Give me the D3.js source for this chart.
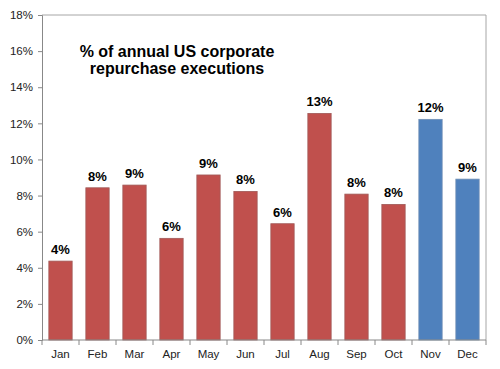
<!DOCTYPE html>
<html><head><meta charset="utf-8">
<script src="https://cdn.jsdelivr.net/npm/d3@7"></script>
<style>body{margin:0;background:#fff}svg{display:block}text{font-family:Arial,"Liberation Sans",sans-serif}</style>
</head><body><svg id="c" width="500" height="369"></svg>
<script>
const months = ["Jan","Feb","Mar","Apr","May","Jun","Jul","Aug","Sep","Oct","Nov","Dec"];
const values = [4.37, 8.43, 8.58, 5.63, 9.14, 8.23, 6.44, 12.55, 8.08, 7.51, 12.22, 8.91];
const labels = ["4%","8%","9%","6%","9%","8%","6%","13%","8%","8%","12%","9%"];
const highlight = ["Nov","Dec"];
const yTicks = [0,2,4,6,8,10,12,14,16,18];
const titleLines = ["% of annual US corporate","repurchase executions"];

const svg = d3.select("#c");
const L=42,R=486,T=15,B=340;
const x = d3.scaleBand().domain(months).range([L,R]).paddingInner(0.37).paddingOuter(0.185);
const y = d3.scaleLinear().domain([0,18]).range([B,T]);

// box border
svg.append("path").attr("d",`M${L},${T}H${R}V${B}`).attr("fill","none").attr("stroke","#a6a6a6").attr("stroke-width",1);

svg.selectAll("rect.bar").data(months).enter().append("rect")
  .attr("x",d=>x(d)).attr("width",x.bandwidth())
  .attr("y",(d,i)=>y(values[i])).attr("height",(d,i)=>B-y(values[i]))
  .attr("fill",d=>highlight.includes(d)?"#4F81BD":"#C0504D")
  .attr("stroke",d=>highlight.includes(d)?"#6f8fb5":"#a05a58").attr("stroke-width",0.8);

svg.selectAll("text.lab").data(months).enter().append("text")
  .attr("x",d=>x(d)+x.bandwidth()/2).attr("y",(d,i)=>y(values[i])-7)
  .attr("text-anchor","middle").attr("font-weight","bold").attr("font-size",13).attr("fill","#000")
  .text((d,i)=>labels[i]);

const yAxis = svg.append("g").attr("transform",`translate(${L},0)`)
  .call(d3.axisLeft(y).tickValues(yTicks).tickFormat(d=>d+"%").tickSize(4).tickPadding(5));
yAxis.select(".domain").attr("stroke","#888");
yAxis.selectAll(".tick line").attr("stroke","#888");
yAxis.selectAll("text").attr("font-size",11.5).attr("fill","#222").style("font-family","Arial,'Liberation Sans',sans-serif");

const xAxis = svg.append("g").attr("transform",`translate(0,${B})`);
xAxis.append("line").attr("x1",L).attr("x2",R).attr("stroke","#888");
const step = (R-L)/months.length;
xAxis.selectAll("line.tk").data(d3.range(months.length+1)).enter().append("line")
  .attr("x1",i=>L+i*step).attr("x2",i=>L+i*step).attr("y1",0).attr("y2",5).attr("stroke","#888");
xAxis.selectAll("text").data(months).enter().append("text")
  .attr("x",d=>x(d)+x.bandwidth()/2).attr("y",18).attr("text-anchor","middle")
  .attr("font-size",11.5).attr("fill","#222").text(d=>d);

svg.append("text").attr("x",177).attr("y",57).attr("text-anchor","middle")
  .attr("font-weight","bold").attr("font-size",16).attr("fill","#000")
  .selectAll("tspan").data(titleLines).enter().append("tspan")
  .attr("x",177).attr("dy",(d,i)=>i?17:0).text(d=>d);
</script></body></html>
